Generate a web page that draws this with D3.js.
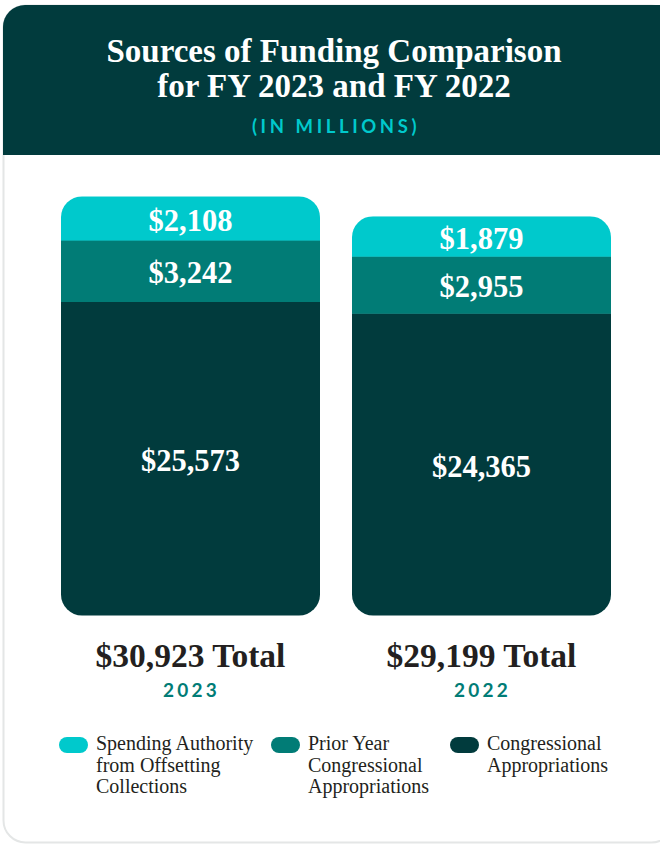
<!DOCTYPE html>
<html>
<head>
<meta charset="utf-8">
<script src="https://cdn.jsdelivr.net/npm/d3@7"></script>
<style>
  html, body { margin: 0; padding: 0; background: #ffffff; }
  svg { display: block; }
</style>
</head>
<body>
<svg id="chart" width="660" height="844"></svg>
<script>
// ---- data ----
const years = ["2023", "2022"];
const seriesNames = [
  "Spending Authority from Offsetting Collections",
  "Prior Year Congressional Appropriations",
  "Congressional Appropriations"
];
const offsetting = [2108, 1879];
const priorYear = [3242, 2955];
const congressional = [25573, 24365];
const totals = [30923, 29199];
const legendLines = [
  ["Spending Authority", "from Offsetting", "Collections"],
  ["Prior Year", "Congressional", "Appropriations"],
  ["Congressional", "Appropriations"]
];

// ---- styles ----
const C_DARK = "#013b3d";
const C_MID = "#017c76";
const C_CYAN = "#00c9cc";
const serif = "'Liberation Serif', 'Times New Roman', serif";
const sans = "Lato, 'Open Sans', sans-serif";

const svg = d3.select("#chart");

// card
svg.append("rect")
  .attr("x", 3.5).attr("y", 5.5).attr("width", 670).attr("height", 837)
  .attr("rx", 22).attr("fill", "#fff").attr("stroke", "#e4e6e6").attr("stroke-width", 2);

// header (rounded top only)
svg.append("clipPath").attr("id", "hdrclip")
  .append("rect").attr("x", 3).attr("y", 5).attr("width", 680).attr("height", 300).attr("rx", 22);
svg.append("rect")
  .attr("x", 3).attr("y", 5).attr("width", 680).attr("height", 150)
  .attr("fill", C_DARK).attr("clip-path", "url(#hdrclip)");

const titleCx = 334;
svg.append("text").attr("x", titleCx).attr("y", 62)
  .attr("text-anchor", "middle").attr("fill", "#fff")
  .style("font-family", serif).style("font-weight", "bold").style("font-size", "33px")
  .text("Sources of Funding Comparison");
svg.append("text").attr("x", titleCx).attr("y", 97)
  .attr("text-anchor", "middle").attr("fill", "#fff")
  .style("font-family", serif).style("font-weight", "bold").style("font-size", "33px")
  .text("for FY 2023 and FY 2022");
svg.append("text").attr("x", titleCx + 2).attr("y", 133)
  .attr("text-anchor", "middle").attr("fill", C_CYAN)
  .style("font-family", sans).style("font-weight", "bold").style("font-size", "18.5px")
  .style("letter-spacing", "3.6px")
  .text("(IN MILLIONS)");

// ---- scales ----
const x = d3.scaleBand().domain(years).range([61, 611]).paddingInner(32 / 291).paddingOuter(0);
const h = d3.scalePow().exponent(0.79).domain([0, 25573]).range([0, 314]);
const baseY = 615.5;

const seriesData = [congressional, priorYear, offsetting]; // bottom -> top
const seriesColors = [C_DARK, C_MID, C_CYAN];

years.forEach((yr, i) => {
  let y0 = baseY;
  const segs = seriesData.map((arr, k) => {
    const hh = h(arr[i]);
    const seg = { v: arr[i], y: y0 - hh, h: hh, color: seriesColors[k] };
    y0 -= hh;
    return seg;
  });
  const top = y0;
  const bx = x(yr), bw = x.bandwidth();
  const cid = "barclip" + i;
  svg.append("clipPath").attr("id", cid)
    .append("rect").attr("x", bx).attr("y", top).attr("width", bw).attr("height", baseY - top).attr("rx", 21);
  const g = svg.append("g").attr("clip-path", `url(#${cid})`);
  g.selectAll("rect").data(segs).join("rect")
    .attr("x", bx).attr("y", d => d.y).attr("width", bw).attr("height", d => d.h + 0.5)
    .attr("fill", d => d.color);
  svg.selectAll(null).data(segs).join("text")
    .attr("x", bx + bw / 2).attr("y", d => d.y + d.h / 2 + 2)
    .attr("dy", "0.35em")
    .attr("text-anchor", "middle").attr("fill", "#fff")
    .style("font-family", serif).style("font-weight", "bold").style("font-size", "30.5px")
    .text(d => "$" + d3.format(",")(d.v));

  svg.append("text").attr("x", bx + bw / 2).attr("y", 667)
    .attr("text-anchor", "middle").attr("fill", "#231f20")
    .style("font-family", serif).style("font-weight", "bold").style("font-size", "33.5px")
    .text("$" + d3.format(",")(totals[i]) + " Total");
  svg.append("text").attr("x", bx + bw / 2 + 1).attr("y", 697)
    .attr("text-anchor", "middle").attr("fill", "#017c76")
    .style("font-family", sans).style("font-weight", "bold").style("font-size", "19px")
    .style("letter-spacing", "3.2px")
    .text(yr);
});

// ---- legend ----
const legendX = [59, 271, 450];
const legendColors = [C_CYAN, C_MID, C_DARK];
legendLines.forEach((lines, k) => {
  const g = svg.append("g").attr("transform", `translate(${legendX[k]},0)`);
  g.append("rect").attr("x", 0).attr("y", 737).attr("width", 29).attr("height", 16)
    .attr("rx", 8).attr("fill", legendColors[k]);
  const t = g.append("text").attr("x", 37).attr("y", 750)
    .attr("fill", "#231f20")
    .style("font-family", serif).style("font-size", "20px");
  lines.forEach((ln, j) => {
    t.append("tspan").attr("x", 37).attr("y", 750 + j * 21.5).text(ln);
  });
});
</script>
</body>
</html>
